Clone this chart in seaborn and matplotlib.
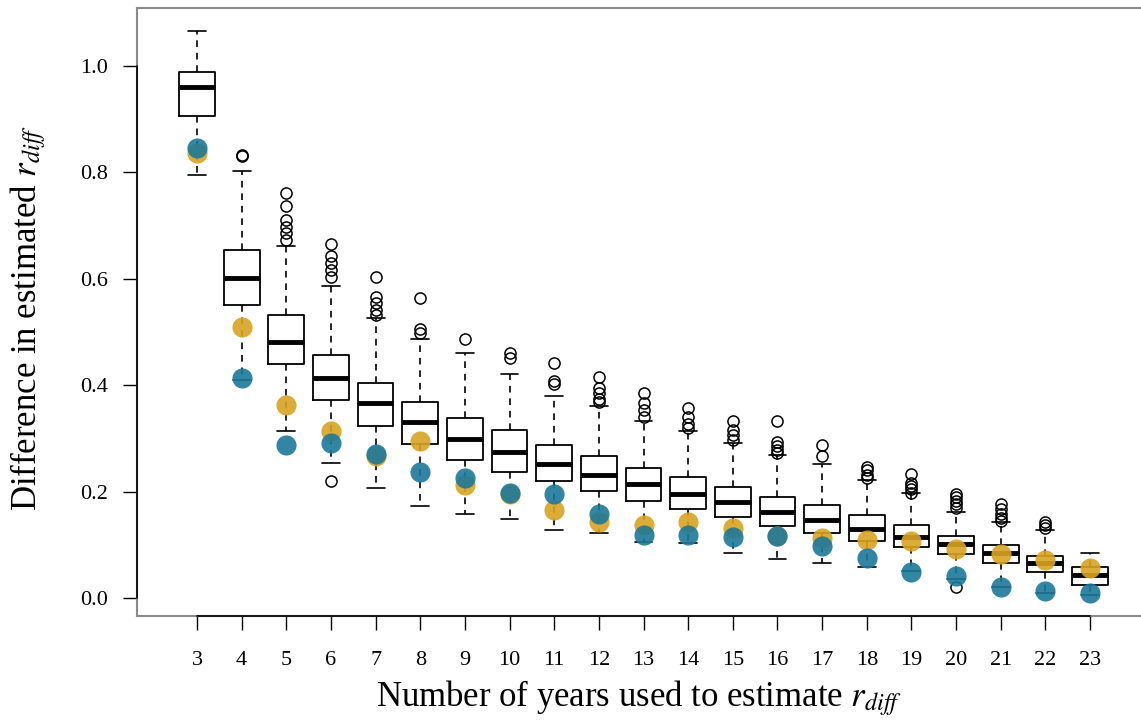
import matplotlib
matplotlib.use("Agg")
import matplotlib.pyplot as plt
import seaborn as sns
import pandas as pd

# values
years = [3, 4, 5, 6, 7, 8, 9, 10, 11, 12, 13, 14, 15, 16, 17, 18, 19, 20, 21, 22, 23]
box_q3 = [0.988, 0.655, 0.532, 0.457, 0.405, 0.369, 0.339, 0.316, 0.288, 0.266, 0.245,
          0.228, 0.208, 0.190, 0.174, 0.156, 0.137, 0.117, 0.099, 0.079, 0.059]
box_med = [0.961, 0.602, 0.482, 0.413, 0.366, 0.330, 0.299, 0.275, 0.252, 0.231, 0.214,
           0.195, 0.180, 0.162, 0.147, 0.130, 0.114, 0.102, 0.084, 0.065, 0.043]
box_q1 = [0.906, 0.551, 0.439, 0.372, 0.324, 0.289, 0.259, 0.236, 0.220, 0.201, 0.183,
          0.168, 0.152, 0.136, 0.122, 0.108, 0.096, 0.083, 0.066, 0.048, 0.024]
whisk_hi = [1.066, 0.803, 0.662, 0.586, 0.526, 0.487, 0.460, 0.422, 0.380, 0.360, 0.333,
            0.314, 0.291, 0.269, 0.252, 0.222, 0.197, 0.162, 0.142, 0.127, 0.085]
whisk_lo = [0.796, 0.410, 0.314, 0.253, 0.206, 0.173, 0.157, 0.148, 0.128, 0.122, 0.106,
            0.104, 0.084, 0.073, 0.065, 0.059, 0.050, 0.035, 0.020, 0.010, 0.005]
outliers = [
    [],
    [0.833, 0.830],
    [0.761, 0.736, 0.711, 0.698, 0.686, 0.673],
    [0.665, 0.642, 0.629, 0.617, 0.604, 0.220],
    [0.604, 0.566, 0.554, 0.541, 0.532],
    [0.563, 0.505, 0.498],
    [0.487],
    [0.460, 0.451],
    [0.441, 0.408, 0.402],
    [0.416, 0.395, 0.385, 0.375, 0.369],
    [0.386, 0.366, 0.353, 0.341],
    [0.358, 0.341, 0.328, 0.319],
    [0.333, 0.316, 0.306, 0.297],
    [0.333, 0.294, 0.286, 0.279, 0.272],
    [0.288, 0.266],
    [0.247, 0.240, 0.232, 0.225],
    [0.233, 0.216, 0.210, 0.204, 0.197],
    [0.196, 0.190, 0.183, 0.176, 0.169, 0.021],
    [0.176, 0.167, 0.158, 0.150, 0.145],
    [0.142, 0.137, 0.131],
    [],
]
yellow_pts = [0.836, 0.510, 0.363, 0.313, 0.266, 0.295, 0.212, 0.195, 0.165, 0.143, 0.137,
              0.143, 0.132, 0.117, 0.113, 0.109, 0.107, 0.093, 0.082, 0.071, 0.057]
blue_pts = [0.846, 0.413, 0.288, 0.292, 0.271, 0.236, 0.226, 0.197, 0.195, 0.158, 0.119,
            0.118, 0.115, 0.117, 0.098, 0.076, 0.049, 0.041, 0.020, 0.013, 0.009]

YELLOW = "#D9A323"
BLUE = "#1C7899"

sns.set_style("white")
plt.rcParams["font.family"] = ["Liberation Serif", "DejaVu Serif"]
plt.rcParams["mathtext.fontset"] = "stix"
plt.rcParams["text.color"] = "black"
plt.rcParams["axes.labelcolor"] = "black"

fig = plt.figure(figsize=(11.41, 7.22), dpi=100)
ax = fig.add_axes([137 / 1141, 1 - 616 / 722, 1 - 137 / 1141, (616 - 8) / 722])

stats = []
for i, yr in enumerate(years):
    stats.append(dict(med=box_med[i], q1=box_q1[i], q3=box_q3[i],
                      whislo=whisk_lo[i], whishi=whisk_hi[i],
                      fliers=outliers[i], label=str(yr)))

ax.bxp(stats, positions=years, widths=0.8, capwidths=0.4, manage_ticks=False,
       boxprops=dict(color="black", lw=1.3),
       medianprops=dict(color="black", lw=3.5, solid_capstyle="butt"),
       whiskerprops=dict(color="black", lw=1.2, linestyle=(0, (4, 3.5))),
       capprops=dict(color="black", lw=1.2),
       flierprops=dict(marker="o", markerfacecolor="none", markeredgecolor="black",
                       markersize=8, markeredgewidth=1.1))

pts = pd.DataFrame({"years": years, "yellow": yellow_pts, "blue": blue_pts})
sns.scatterplot(data=pts, x="years", y="yellow", color=YELLOW, s=210, alpha=0.9,
                linewidth=0, zorder=3, ax=ax)
sns.scatterplot(data=pts, x="years", y="blue", color=BLUE, s=210, alpha=0.9,
                linewidth=0, zorder=4, ax=ax)

yticks = [0.0, 0.2, 0.4, 0.6, 0.8, 1.0]
ax.set_xticks(years)
ax.set_xticklabels([str(y) for y in years])
ax.set_yticks(yticks)
ax.set_yticklabels([f"{t:.1f}" for t in yticks])
ax.tick_params(axis="both", direction="out", length=10, width=1, colors="black",
               bottom=True, left=True, labelsize=16)
ax.tick_params(axis="y", pad=11)
ax.tick_params(axis="x", pad=15)

# R-style frame: grey box, black axis lines only over the tick range
for side in ["top", "left", "bottom"]:
    ax.spines[side].set_color("#8a8a8a")
    ax.spines[side].set_linewidth(1.5)
ax.spines["right"].set_visible(False)
ax.set_xlim(1.656, 24.142)
ax.set_ylim(-0.0338, 1.109)
ax.plot([years[0], years[-1]], [ax.get_ylim()[0]] * 2, color="black", lw=1.2,
        clip_on=False, zorder=5)
ax.plot([ax.get_xlim()[0]] * 2, [yticks[0], yticks[-1]], color="black", lw=1.2,
        clip_on=False, zorder=5)
ax.set_xlim(1.656, 24.142)
ax.set_ylim(-0.0338, 1.109)

ax.set_xlabel(r"Number of years used to estimate $r_{diff}$", fontsize=25, labelpad=6)
ax.set_ylabel(r"Difference in estimated $r_{diff}$", fontsize=25)
ax.yaxis.set_label_coords(-0.0886, 0.490)

fig.savefig("out.png", dpi=100)
